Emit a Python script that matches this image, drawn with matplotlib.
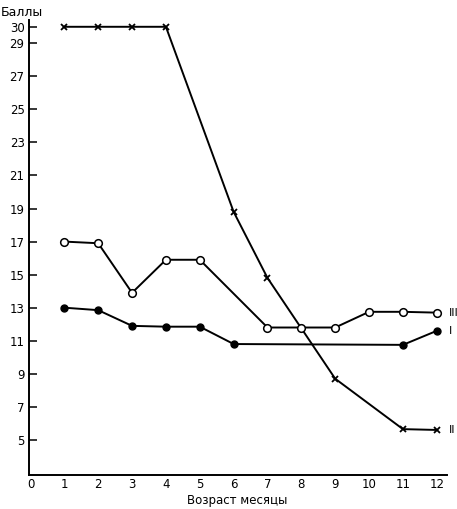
import matplotlib.pyplot as plt

# ── data ─────────────────────────────────────────────────────────────────────
months_i = [1, 2, 3, 4, 5, 6, 11, 12]
scores_i = [13.0, 12.85, 11.9, 11.85, 11.85, 10.8, 10.75, 11.6]

months_ii = [1, 2, 3, 4, 6, 7, 9, 11, 12]
scores_ii = [30.0, 30.0, 30.0, 30.0, 18.8, 14.8, 8.7, 5.65, 5.6]

months_iii = [1, 2, 3, 4, 5, 7, 8, 9, 10, 11, 12]
scores_iii = [17.0, 16.9, 13.9, 15.9, 15.9, 11.8, 11.8, 11.8, 12.75, 12.75, 12.7]

x_ticks = list(range(0, 13))
x_tick_labels = ["0", "1", "2", "3", "4", "5", "6", "7", "8", "9", "10", "11", "12"]
y_ticks = [5, 7, 9, 11, 13, 15, 17, 19, 21, 23, 25, 27, 29, 30]
series_labels = ["I", "II", "III"]

# ── plot ─────────────────────────────────────────────────────────────────────
fig = plt.figure(figsize=(4.57, 5.09), dpi=100)
ax = fig.add_axes([0.063, 0.067, 0.915, 0.894])

ax.plot(months_i, scores_i, color="black", lw=1.4, marker="o", ms=5,
        mfc="black", mec="black")
ax.plot(months_ii, scores_ii, color="black", lw=1.4, marker="x", ms=5,
        mew=1.3)
ax.plot(months_iii, scores_iii, color="black", lw=1.4, marker="o", ms=5.5,
        mfc="white", mec="black", mew=1.1)

# Series labels at the right end of each line
ax.text(12.35, scores_iii[-1], series_labels[2], va="center", ha="left", fontsize=8)
ax.text(12.35, scores_i[-1], series_labels[0], va="center", ha="left", fontsize=8)
ax.text(12.35, scores_ii[-1], series_labels[1], va="center", ha="left", fontsize=8)

ax.set_xlim(-0.05, 12.3)
ax.set_ylim(2.88, 30.42)
ax.set_xticks(x_ticks)
ax.set_xticklabels(x_tick_labels, fontsize=8.5)
ax.set_yticks(y_ticks)
ax.set_yticklabels([str(v) for v in y_ticks], fontsize=8.5)
ax.tick_params(axis="x", length=0, pad=2)
ax.tick_params(axis="y", direction="in", length=6, width=1.1, pad=3)

for side in ("top", "right"):
    ax.spines[side].set_visible(False)
for side in ("left", "bottom"):
    ax.spines[side].set_linewidth(1.4)

fig.text(0.002, 0.975, "Баллы", fontsize=9, ha="left", va="center")
fig.text(0.52, 0.017, "Возраст месяцы", fontsize=8.5, ha="center", va="center")

fig.savefig("out.png", dpi=100)
